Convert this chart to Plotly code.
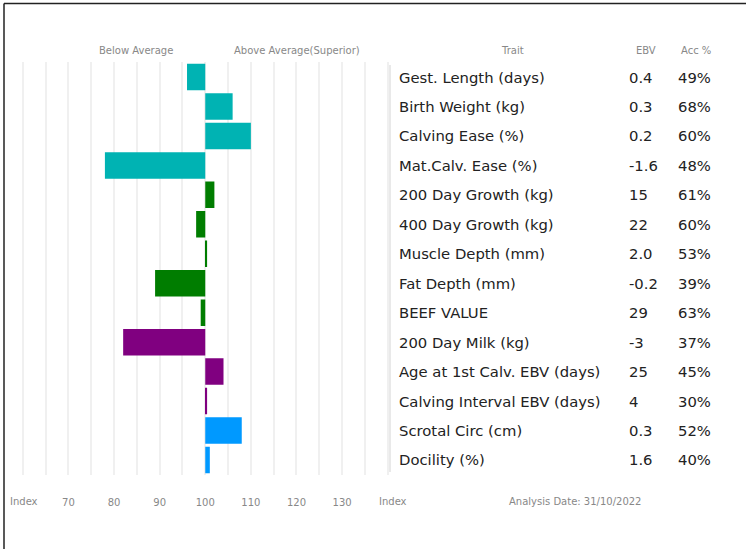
import plotly.graph_objects as go

W, H = 746, 549

traits = ["Gest. Length (days)", "Birth Weight (kg)", "Calving Ease (%)", "Mat.Calv. Ease (%)",
          "200 Day Growth (kg)", "400 Day Growth (kg)", "Muscle Depth (mm)", "Fat Depth (mm)",
          "BEEF VALUE", "200 Day Milk (kg)", "Age at 1st Calv. EBV (days)",
          "Calving Interval EBV (days)", "Scrotal Circ (cm)", "Docility (%)"]
index_values = [96, 106, 110, 78, 102, 98, 100.4, 89, 99, 82, 104, 100.4, 108, 101]
ebv = ["0.4", "0.3", "0.2", "-1.6", "15", "22", "2.0", "-0.2", "29", "-3", "25", "4", "0.3", "1.6"]
acc = ["49%", "68%", "60%", "48%", "61%", "60%", "53%", "39%", "63%", "37%", "45%", "30%", "52%", "40%"]
groups = ["teal"] * 4 + ["green"] * 5 + ["purple"] * 3 + ["blue"] * 2
tick_vals = [70, 80, 90, 100, 110, 120, 130]
tick_text = ["70", "80", "90", "100", "110", "120", "130"]
baseline = 100

palette = {"teal": "#00B3B3", "green": "#007D00", "purple": "#800080", "blue": "#0099FF"}

def px(x):
    return x / W

def py(y):
    return 1 - y / H

fig = go.Figure()
fig.add_trace(go.Bar(
    y=traits,
    x=[v - baseline for v in index_values],
    base=baseline,
    orientation="h",
    marker=dict(color=[palette[g] for g in groups], line=dict(width=0)),
    width=0.9,
    hoverinfo="skip",
))

font_main = "DejaVu Sans"
big = dict(family=font_main, size=14.8, color="#222")
ann = []
for t, e, a in zip(traits, ebv, acc):
    ann.append(dict(x=px(397), y=t, xref="paper", yref="y", text=t, showarrow=False,
                    xanchor="left", font=big))
    ann.append(dict(x=px(627), y=t, xref="paper", yref="y", text=e, showarrow=False,
                    xanchor="left", font=big))
    ann.append(dict(x=px(676), y=t, xref="paper", yref="y", text=a, showarrow=False,
                    xanchor="left", font=big))

small = dict(family=font_main, size=10, color="#888")
for txt, x, y in [("Below Average", 136, 51), ("Above Average(Superior)", 297, 51),
                  ("Trait", 512, 51), ("EBV", 646, 51), ("Acc %", 696, 51),
                  ("Index", 24, 501), ("Index", 393, 501),
                  ("Analysis Date: 31/10/2022", 575, 501)]:
    ann.append(dict(x=px(x), y=py(y), xref="paper", yref="paper", text=txt, showarrow=False,
                    xanchor="center", yanchor="middle", font=small))

shapes = [
    dict(type="line", xref="paper", yref="paper", x0=px(4), x1=1, y0=py(3.5), y1=py(3.5),
         line=dict(color="#222", width=1.5)),
    dict(type="line", xref="paper", yref="paper", x0=px(4), x1=px(4), y0=0, y1=py(3.5),
         line=dict(color="#222", width=1.5)),
    dict(type="line", xref="paper", yref="paper", x0=px(390), x1=px(390), y0=py(472), y1=py(65),
         line=dict(color="#e2e2e2", width=1.5)),
]

fig.update_layout(
    width=W, height=H,
    margin=dict(l=0, r=0, t=0, b=0),
    paper_bgcolor="white", plot_bgcolor="white",
    showlegend=False,
    bargap=0.1,
    annotations=ann,
    shapes=shapes,
    xaxis=dict(domain=[0, px(390)], range=[55, 140.5], showgrid=True, gridcolor="#f0f0f0",
               gridwidth=1.5, tickvals=tick_vals, ticktext=tick_text, ticks="",
               ticklabelstandoff=20, tickfont=small, zeroline=False, showline=False,
               minor=dict(dtick=5, tick0=0, showgrid=True, gridcolor="#f0f0f0", gridwidth=1.5)),
    yaxis=dict(domain=[py(474.7), py(62.3)], autorange="reversed", showticklabels=False,
               showgrid=False, zeroline=False, showline=False, ticks=""),
)

fig.write_html("out.html", config={"displayModeBar": False},
               post_script="document.body.style.margin='0';document.body.style.padding='0';")
